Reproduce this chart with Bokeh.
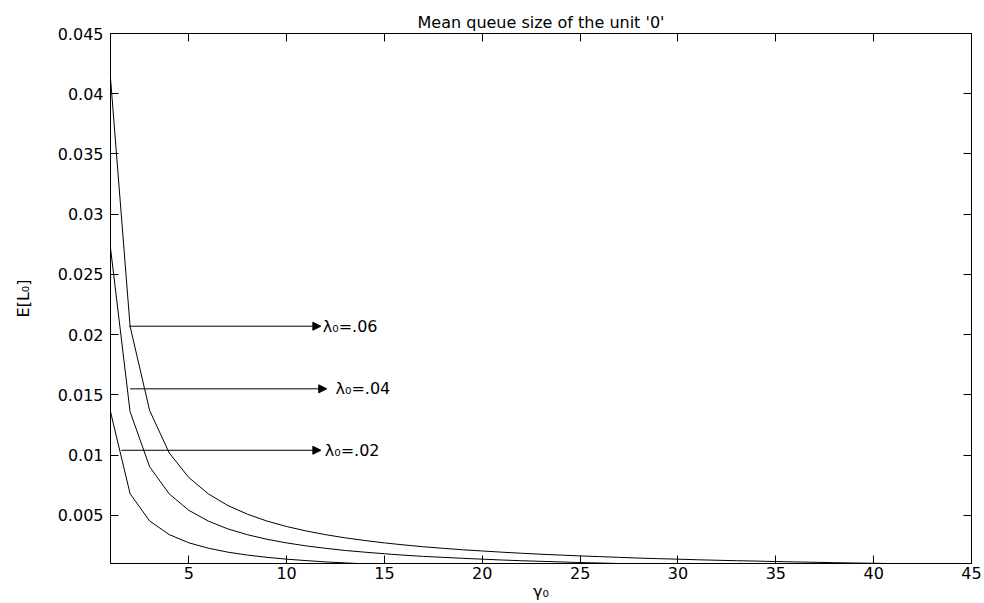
from bokeh.plotting import figure
from bokeh.models import (Arrow, NormalHead, Label, LinearAxis, FixedTicker, Range1d,
                          CustomJSTickFormatter)
from bokeh.embed import file_html
from bokeh.resources import INLINE

# ---- data ----
gamma0 = list(range(1, 46))

lam06 = [0.0413, 0.0207, 0.0137, 0.01018, 0.00814, 0.00678, 0.00581, 0.00509, 0.00452, 0.00407,
         0.00370, 0.00339, 0.00313, 0.00291, 0.00271, 0.00254, 0.00239, 0.00226, 0.00214, 0.00204,
         0.00194, 0.00185, 0.00177, 0.00170, 0.00163, 0.00157, 0.00151, 0.00145, 0.00140, 0.00136,
         0.00131, 0.00127, 0.00123, 0.00120, 0.00116, 0.00113, 0.00110, 0.00107, 0.00104, 0.00102,
         0.00099, 0.00097, 0.00095, 0.00093, 0.00090]

lam04 = [0.0272, 0.0136, 0.00903, 0.00678, 0.00542, 0.00452, 0.00387, 0.00339, 0.00301, 0.00271,
         0.00246, 0.00226, 0.00208, 0.00194, 0.00181, 0.00169, 0.00159, 0.00151, 0.00143, 0.00136,
         0.00129, 0.00123, 0.00118, 0.00113, 0.00108, 0.00104, 0.00100, 0.00097, 0.00093, 0.00090,
         0.00087, 0.00085, 0.00082, 0.00080, 0.00077, 0.00075, 0.00073, 0.00071, 0.00069, 0.00068,
         0.00066, 0.00065, 0.00063, 0.00062, 0.00060]

lam02 = [0.0136, 0.0068, 0.00453, 0.00340, 0.00272, 0.00227, 0.00194, 0.00170, 0.00151, 0.00136,
         0.00124, 0.00113, 0.00105, 0.00097, 0.00091, 0.00085, 0.00080, 0.00076, 0.00072, 0.00068,
         0.00065, 0.00062, 0.00059, 0.00057, 0.00054, 0.00052, 0.00050, 0.00049, 0.00047, 0.00045,
         0.00044, 0.00043, 0.00041, 0.00040, 0.00039, 0.00038, 0.00037, 0.00036, 0.00035, 0.00034,
         0.00033, 0.00032, 0.00032, 0.00031, 0.00030]

series = [lam06, lam04, lam02]

annot_text = ["λ₀=.06", "λ₀=.04", "λ₀=.02"]
arrow_x_start = [1.95, 2.0, 1.55]
arrow_x_end = [11.75, 12.05, 11.75]
arrow_y = [0.0207, 0.0155, 0.0104]
text_x = [11.85, 12.5, 11.95]

x_ticks = [5, 10, 15, 20, 25, 30, 35, 40, 45]
y_ticks = [0.005, 0.01, 0.015, 0.02, 0.025, 0.03, 0.035, 0.04, 0.045]
y_tick_labels = ["0.005", "0.01", "0.015", "0.02", "0.025", "0.03", "0.035", "0.04", "0.045"]

title_text = "Mean queue size of the unit '0'"
x_label = "γ₀"
y_label = "E[L₀]"

FONT = "DejaVu Sans"
FS = "16px"

p = figure(width=984, height=603,
           x_range=Range1d(1, 45), y_range=Range1d(0.001, 0.045),
           output_backend="svg", toolbar_location=None,
           min_border_left=110, min_border_right=13,
           min_border_top=33, min_border_bottom=37,
           title=title_text)

p.background_fill_color = "white"
p.border_fill_color = "white"
p.outline_line_color = "black"
p.outline_line_width = 1
p.xgrid.visible = False
p.ygrid.visible = False

p.title.text_font = FONT
p.title.text_font_size = FS
p.title.text_font_style = "normal"
p.title.text_color = "black"
p.title.align = "center"
p.title.standoff = 4


def style_axis(ax, show_labels):
    ax.axis_line_color = "black"
    ax.axis_line_width = 1
    ax.major_tick_in = 8
    ax.major_tick_out = 0
    ax.major_tick_line_color = "black"
    ax.minor_tick_line_color = None
    ax.major_label_text_font = FONT
    ax.major_label_text_color = "black"
    ax.major_label_text_font_size = FS
    if not show_labels:
        ax.formatter = CustomJSTickFormatter(code="return '';")
        ax.major_label_standoff = 0


xax = p.xaxis[0]
yax = p.yaxis[0]
xax.ticker = FixedTicker(ticks=x_ticks)
yax.ticker = FixedTicker(ticks=y_ticks)
yax.major_label_overrides = {t: l for t, l in zip(y_ticks, y_tick_labels)}
style_axis(xax, True)
style_axis(yax, True)
xax.major_label_standoff = 3
yax.major_label_standoff = 7
xax.axis_label = x_label
yax.axis_label = y_label
for ax in (xax, yax):
    ax.axis_label_text_font = FONT
    ax.axis_label_text_font_size = FS
    ax.axis_label_text_font_style = "normal"
    ax.axis_label_text_color = "black"
xax.axis_label_standoff = 0
yax.axis_label_standoff = 22

top_ax = LinearAxis(ticker=FixedTicker(ticks=x_ticks))
right_ax = LinearAxis(ticker=FixedTicker(ticks=y_ticks))
style_axis(top_ax, False)
style_axis(right_ax, False)
p.add_layout(top_ax, "above")
p.add_layout(right_ax, "right")

for ys in series:
    p.line(gamma0, ys, line_color="black", line_width=1)

for t, xs, xe, y, xt in zip(annot_text, arrow_x_start, arrow_x_end, arrow_y, text_x):
    p.add_layout(Arrow(end=NormalHead(size=8, fill_color="black", line_color="black", line_width=1),
                       x_start=xs, y_start=y, x_end=xe, y_end=y,
                       line_color="black", line_width=1))
    p.add_layout(Label(x=xt, y=y, text=t, text_baseline="middle", text_align="left",
                       text_font=FONT, text_font_size=FS, text_color="black"))

open("out.html", "w").write(file_html(p, INLINE))
